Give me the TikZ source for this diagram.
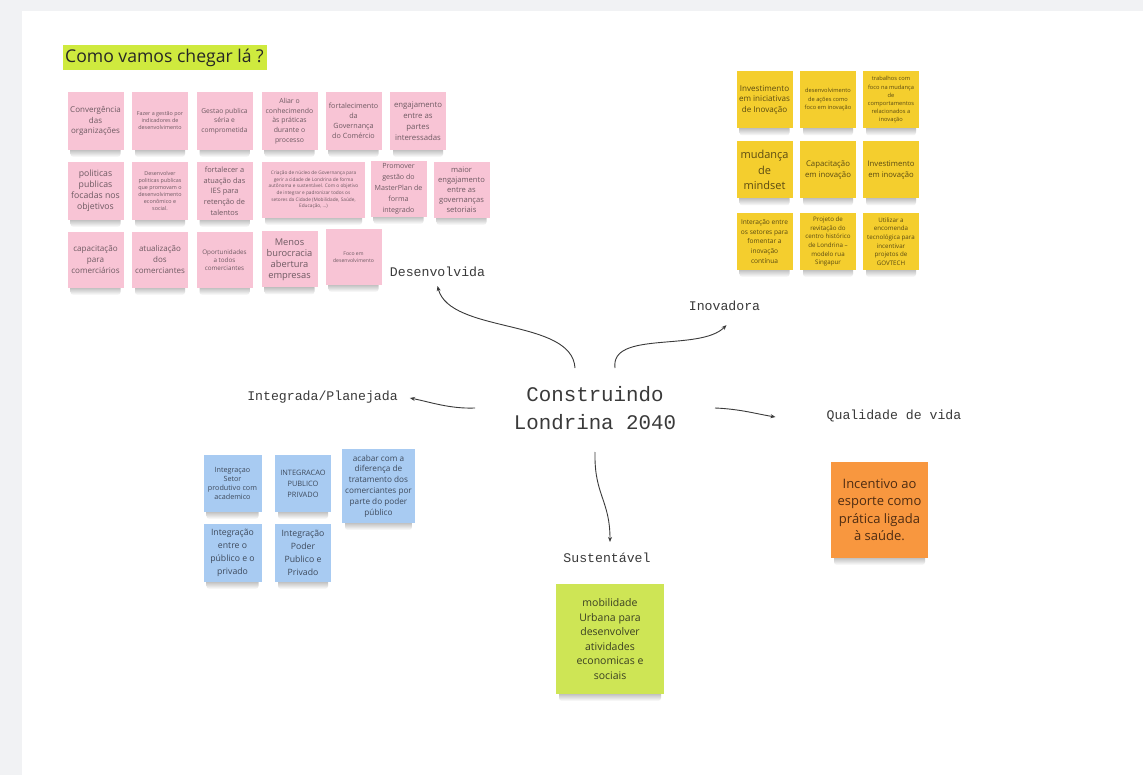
\documentclass[tikz,border=0pt]{standalone}
\usepackage{fontspec}
\setmainfont{Open Sans}
\newfontfamily\monof{Liberation Mono}
\usetikzlibrary{arrows.meta}
\definecolor{bgc}{HTML}{F1F2F4}
\definecolor{pinkc}{HTML}{F8C4D5}
\definecolor{pinktxt}{HTML}{6E5A62}
\definecolor{yelc}{HTML}{F4CE2E}
\definecolor{yeltxt}{HTML}{5A4A12}
\definecolor{bluec}{HTML}{A8CBF2}
\definecolor{bluetxt}{HTML}{3E4A5C}
\definecolor{greenc}{HTML}{CEE555}
\definecolor{greentxt}{HTML}{3A3F22}
\definecolor{orangec}{HTML}{F8973F}
\definecolor{orangetxt}{HTML}{4E2C12}
\definecolor{hlc}{HTML}{CFEA3E}
\definecolor{linec}{HTML}{3A3A3A}
\tikzset{
  fs/.style n args={2}{font=\fontsize{#1}{#2}\selectfont},
  sticky/.style={rectangle, inner sep=1pt, align=center,
    minimum width=56pt, minimum height=58pt},
  pinkst/.style={sticky, fill=pinkc, text=pinktxt},
  yelst/.style={sticky, fill=yelc, text=yeltxt, minimum height=57pt},
  bluest/.style={sticky, fill=bluec, text=bluetxt, minimum height=57pt},
  lbl/.style={font=\monof\fontsize{13.2}{15}\selectfont, text=linec, inner sep=0pt},
  arr/.style={draw=linec, line width=0.9pt, -{Stealth[length=5pt,width=4pt]}},
  shad/.style={top color=black!34, bottom color=white, draw=none, rounded corners=3pt},
}
\begin{document}
\begin{tikzpicture}[x=1pt,y=-1pt]
\useasboundingbox (0,0) rectangle (1143,775);
\fill[bgc] (0,0) rectangle (1143,775);
\fill[white] (22,11) rectangle (1143,775);

% title
\fill[hlc] (63,45) rectangle (267,70);
\node[anchor=west, inner sep=0pt, fs={17.6}{20}, text=black!85] (title) at (65,57.5) {Como vamos chegar lá ?};

% sticky shadows (drawn first, peeking out below each note)
\foreach \cx/\by/\w in {95.5/150/56,160/150/56,224.5/150/56,289.5/150/56,353.5/150/56,418/150/56,
  95.5/220/56,160/220/56,224.5/220/56,313.5/218/103,398.5/217/56,461.5/218/56,
  95.5/288/56,160/288/56,224.5/288/56,289.5/287.5/56,353.5/285/56,
  764.5/128.5/56,828/128.5/56,891/128.5/56,764.5/198.5/56,828/198.5/56,891/198.5/56,
  764.5/270/56,828/270/56,891/270/56,
  232.5/512/58,303/512/56,378.5/523/73,232.5/582/58,303/582/56,
  610/694/108,879.5/558/97}
  \shade[shad] (\cx-\w/2+3,\by-3) rectangle (\cx+\w/2-3,\by+7);

% pink row 1
\node[pinkst, fs={8}{10.5}] (p1) at (95.5,121) {Convergência\\das\\organizações};
\node[pinkst, fs={5.4}{7}] (p2) at (160,121) {Fazer a gestão por\\indicadores de\\desenvolvimento};
\node[pinkst, fs={6.7}{9.5}] (p3) at (224.5,121) {Gestao publica\\séria e\\comprometida};
\node[pinkst, fs={6.9}{9.7}] (p4) at (289.5,121) {Aliar o\\conhecimendo\\às práticas\\durante o\\processo};
\node[pinkst, fs={7.2}{10}] (p5) at (353.5,121) {fortalecimento\\da\\Governança\\do Comércio};
\node[pinkst, fs={7.8}{11}] (p6) at (418,121) {engajamento\\entre as\\partes\\interessadas};
% pink row 2
\node[pinkst, fs={8.7}{11}] (p7) at (95.5,191) {politicas\\publicas\\focadas nos\\objetivos};
\node[pinkst, fs={5.4}{7}] (p8) at (160,191) {Desenvolver\\politicas publicas\\que promovam o\\desenvolvimento\\econômico e\\social.};
\node[pinkst, fs={7.4}{10.7}] (p9) at (224.5,191) {fortalecer a\\atuação das\\IES para\\retenção de\\talentos};
\node[pinkst, minimum width=103pt, minimum height=56pt, fs={4.75}{6.6}] (p10) at (313.5,190) {Criação de núcleo de Governança para\\gerir a cidade de Londrina de forma\\autônoma e sustentável. Com o objetivo\\de integrar e padronizar todos os\\setores da Cidade (Mobilidade, Saúde,\\Educação, ...)};
\node[pinkst, minimum height=56pt, fs={7.1}{11}] (p11) at (398.5,189) {Promover\\gestão do\\MasterPlan de\\forma\\integrado};
\node[pinkst, minimum height=56pt, fs={7.6}{10}] (p12) at (461.5,190) {maior\\engajamento\\entre as\\governanças\\setoriais};
% pink row 3
\node[pinkst, minimum height=56pt, fs={8.1}{11}] (p13) at (95.5,260) {capacitação\\para\\comerciários};
\node[pinkst, minimum height=56pt, fs={8}{11}] (p14) at (160,260) {atualização\\dos\\comerciantes};
\node[pinkst, minimum height=56pt, fs={6.3}{8}] (p15) at (224.5,260) {Oportunidades\\a todos\\comerciantes};
\node[pinkst, minimum height=56pt, fs={9.3}{11}] (p16) at (289.5,259.5) {Menos\\burocracia\\abertura\\empresas};
\node[pinkst, minimum height=56pt, fs={5.1}{7}] (p17) at (353.5,257) {Foco em\\desenvolvimento};

% yellow
\node[yelst, fs={8.1}{10.5}] (y1) at (764.5,100) {Investimento\\em iniciativas\\de Inovação};
\node[yelst, fs={5.7}{8.5}] (y2) at (828,100) {desenvolvimento\\de ações como\\foco em inovação};
\node[yelst, fs={5.7}{8.2}] (y3) at (891,100) {trabalhos com\\foco na mudança\\de\\comportamentos\\relacionados a\\inovação};
\node[yelst, fs={11}{15.5}] (y4) at (764.5,170) {mudança\\de\\mindset};
\node[yelst, fs={7.8}{11}] (y5) at (828,170) {Capacitação\\em inovação};
\node[yelst, fs={7.7}{11}] (y6) at (891,170) {Investimento\\em inovação};
\node[yelst, fs={6.6}{9.8}] (y7) at (764.5,241.5) {Interação entre\\os setores para\\fomentar a\\inovação\\contínua};
\node[yelst, fs={6.2}{8.7}] (y8) at (828,241.5) {Projeto de\\revitação do\\centro histórico\\de Londrina –\\modelo rua\\Singapur};
\node[yelst, fs={6.2}{8.7}] (y9) at (891,241.5) {Utilizar a\\encomenda\\tecnológica para\\incentivar\\projetos de\\GOVTECH};

% blue
\node[bluest, minimum width=58pt, fs={7.2}{9}] (b1) at (232.5,483.5) {Integraçao\\Setor\\produtivo com\\academico};
\node[bluest, fs={7.4}{11}] (b2) at (303,483.5) {INTEGRACAO\\PUBLICO\\PRIVADO};
\node[bluest, minimum width=73pt, minimum height=74pt, fs={8.2}{10.8}] (b3) at (378.5,486) {acabar com a\\diferença de\\tratamento dos\\comerciantes por\\parte do poder\\público};
\node[bluest, minimum width=58pt, minimum height=58pt, fs={8.7}{13}] (b4) at (232.5,553) {Integração\\entre o\\público e o\\privado};
\node[bluest, minimum height=58pt, fs={8.7}{13}] (b5) at (303,553) {Integração\\Poder\\Publico e\\Privado};

% green
\node[sticky, fill=greenc, text=greentxt, minimum width=108pt, minimum height=110pt, fs={10.5}{14.6}] (g1) at (610,639) {mobilidade\\Urbana para\\desenvolver\\atividades\\economicas e\\sociais};
% orange
\node[sticky, fill=orangec, text=orangetxt, minimum width=97pt, minimum height=96pt, fs={13}{17.5}] (o1) at (879.5,510) {Incentivo ao\\esporte como\\prática ligada\\à saúde.};

% center
\node[font=\monof\fontsize{20.8}{28}\selectfont, text=linec, align=center, inner sep=0pt] (c) at (595,408.5) {Construindo\\Londrina 2040};

% labels
\node[lbl] (lDes) at (437.5,272) {Desenvolvida};
\node[lbl] (lIno) at (724.5,306) {Inovadora};
\node[lbl] (lInt) at (322.5,397) {Integrada/Planejada};
\node[lbl] (lQua) at (894,416) {Qualidade de vida};
\node[lbl] (lSus) at (607,558) {Sustentável};

% connector points
\coordinate (sDes) at (575,368);
\coordinate (sIno) at (615,368);
\coordinate (sInt) at (475,408);
\coordinate (sQua) at (715,408);
\coordinate (sSus) at (595,452);

\draw[arr] (sDes) .. controls (572,318) and (450,334) .. ([yshift=-9pt]lDes.south);
\draw[arr] (sIno) .. controls (610,330) and (700,352) .. ([xshift=2pt,yshift=-14pt]lIno.south);
\draw[arr] (sInt) .. controls (450,409) and (430,402) .. ([xshift=12pt,yshift=-1pt]lInt.east);
\draw[arr] (sQua) .. controls (740,409) and (757,414) .. ([xshift=-51pt,yshift=-1pt]lQua.west);
\draw[arr] (sSus) .. controls (594,495) and (610,500) .. ([xshift=3pt,yshift=11pt]lSus.north);
\end{tikzpicture}
\end{document}
